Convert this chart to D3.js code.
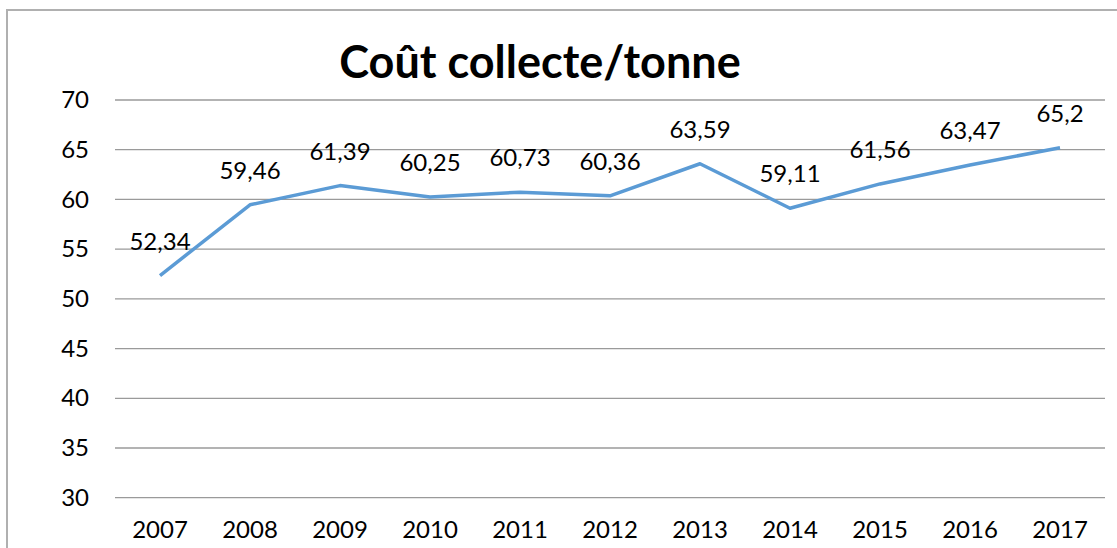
<!DOCTYPE html>
<html>
<head>
<meta charset="utf-8">
<script src="https://cdn.jsdelivr.net/npm/d3@7"></script>
<style>
  body { margin: 0; background: #fff; }
  text { font-family: Lato, "Open Sans", sans-serif; fill: #000; }
</style>
</head>
<body>
<script>
// data
var years = ["2007","2008","2009","2010","2011","2012","2013","2014","2015","2016","2017"];
var cost = [52.34, 59.46, 61.39, 60.25, 60.73, 60.36, 63.59, 59.11, 61.56, 63.47, 65.2];
var yTicks = [30, 35, 40, 45, 50, 55, 60, 65, 70];
var title = "Coût collecte/tonne";

var W = 1117, H = 548;
var margin = {top: 100, right: 12, bottom: 50, left: 115},
    w = W - margin.left - margin.right,
    h = 497.7 - margin.top;

var svg = d3.select("body").append("svg")
  .attr("width", W)
  .attr("height", H);

// chart border
svg.append("rect")
  .attr("x", 7).attr("y", 10)
  .attr("width", 1130).attr("height", 600)
  .attr("fill", "none")
  .attr("stroke", "#b0b0b0")
  .attr("stroke-width", 2);

svg.append("text")
  .attr("x", 540).attr("y", 78)
  .attr("text-anchor", "middle")
  .style("font-size", "45px")
  .style("font-weight", "bold")
  .text(title);

var g = svg.append("g")
  .attr("transform", "translate(" + margin.left + "," + margin.top + ")");

/***Scales***/
var xScale = d3.scaleBand().domain(years).range([0, w]);
var yScale = d3.scaleLinear().domain([30, 70]).range([h, 0]);

/***Gridlines***/
g.selectAll(".grid")
  .data(yTicks)
  .enter().append("line")
    .attr("class", "grid")
    .attr("x1", 0).attr("x2", w)
    .attr("y1", function(d) { return yScale(d); })
    .attr("y2", function(d) { return yScale(d); })
    .attr("stroke", "#9a9a9a")
    .attr("stroke-width", 1.3);

/***Axes***/
var yAxis = d3.axisLeft(yScale).tickValues(yTicks).tickSize(0).tickPadding(26);
var xAxis = d3.axisBottom(xScale).tickSize(0).tickPadding(23);

g.append("g").attr("class", "yaxis").call(yAxis);
g.append("g").attr("class", "xaxis")
  .attr("transform", "translate(0," + h + ")")
  .call(xAxis);

g.selectAll(".domain").style("display", "none");
g.selectAll(".tick text")
  .style("font-family", "Lato, sans-serif")
  .style("font-size", "24px")
  .attr("fill", "#000");

/***Line***/
var lineBetween = d3.line()
  .x(function(d, i) { return xScale(years[i]) + xScale.bandwidth() / 2; })
  .y(function(d) { return yScale(d); });

g.append("path")
  .datum(cost)
  .attr("d", lineBetween)
  .attr("fill", "none")
  .attr("stroke", "#5b9bd5")
  .attr("stroke-width", 3.5)
  .attr("stroke-linejoin", "round");

/***Labels***/
g.selectAll(".lbl")
  .data(cost)
  .enter().append("text")
    .attr("class", "lbl")
    .attr("x", function(d, i) { return xScale(years[i]) + xScale.bandwidth() / 2; })
    .attr("y", function(d) { return yScale(d) - 26; })
    .attr("text-anchor", "middle")
    .style("font-size", "24px")
    .text(function(d) { return String(d).replace(".", ","); });
</script>
</body>
</html>
